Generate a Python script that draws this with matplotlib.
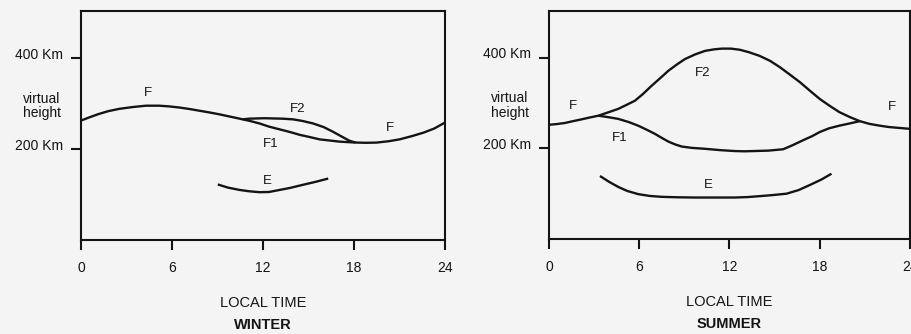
import matplotlib
matplotlib.use("Agg")
import matplotlib.pyplot as plt
from matplotlib.transforms import blended_transform_factory, ScaledTranslation

plt.rcParams['font.family'] = ['Liberation Sans', 'DejaVu Sans']

# ---------------- data (local time in hours, virtual height in km) ----------------
x_ticks = [0, 6, 12, 18, 24]
x_tick_labels = ["0", "6", "12", "18", "24"]
y_ticks = [200, 400]
y_tick_labels = ["200 Km", "400 Km"]

# Winter
winter_F_hours = [0.05, 0.6, 1.19, 1.8, 2.51, 3.4, 4.28, 5.16, 5.8, 6.48, 7.1, 7.8, 8.5,
                  9.13, 9.9, 10.67, 11.2, 11.77, 12.4, 13.1, 13.8, 14.42, 15.1, 15.74,
                  16.4, 17.06, 17.6, 18.17, 18.8, 19.5, 20.3, 21.0, 21.8, 22.6, 23.3, 24.0]
winter_F_km = [263, 270, 277, 283, 288, 292, 295, 295, 293.5, 291, 288, 284, 280,
               276, 270.5, 265, 261, 256, 249, 243, 237, 231, 226, 221,
               218.5, 216, 215, 214, 213.5, 214, 217, 221, 228, 236, 245, 258]
winter_F2_hours = [10.67, 11.1, 11.6, 12.1, 12.65, 13.3, 13.98, 14.6, 15.3, 16.0, 16.6,
                   17.2, 17.7, 18.1]
winter_F2_km = [265, 266.5, 267, 267.5, 267, 266.5, 265, 261.5, 256, 248, 238,
                227, 218, 214]
winter_E_hours = [9.02, 9.7, 10.45, 11.1, 11.77, 12.4, 13.1, 13.8, 14.6, 15.5, 16.3]
winter_E_km = [122, 115, 110, 107, 105, 105.5, 110, 114.5, 121, 128, 135]

# Summer
summer_F_hours = [0.0, 0.5, 1.06, 1.6, 2.17, 2.7, 3.28, 3.9, 4.6, 5.1, 5.71, 6.25, 6.82,
                  7.4, 7.93, 8.5, 9.04, 9.7, 10.37, 11.0, 11.5, 12.1, 12.69, 13.3, 14.0,
                  14.7, 15.35, 16.0, 16.68, 17.35, 18.0, 18.65, 19.3, 20.0, 20.66, 21.3,
                  21.99, 22.6, 23.3, 24.0]
summer_F_km = [252, 253.5, 256, 260, 264, 268, 272, 279, 287, 295, 305, 320, 338,
               355, 371, 385, 397, 407, 415, 418.5, 420, 420, 417.5, 412, 404,
               393, 379, 363, 346, 327, 309, 294, 280, 269, 260, 254,
               250, 247, 245, 243]
summer_F1_hours = [3.28, 3.9, 4.6, 5.3, 5.93, 6.5, 7.04, 7.5, 7.93, 8.4, 8.82, 9.5,
                   10.37, 11.4, 12.36, 13.0, 13.6, 14.6, 15.57, 16.2, 16.9, 17.5, 18.0,
                   18.6, 19.3, 20.0, 20.66]
summer_F1_km = [272, 269, 265, 258, 250, 241, 232, 223, 215, 208.5, 204, 201,
                199, 196, 194, 193.5, 194, 195, 198, 207, 218, 227, 236,
                244, 250, 255, 260]
summer_E_hours = [3.39, 4.0, 4.6, 5.2, 5.93, 6.7, 7.49, 8.6, 9.7, 11.0, 12.36, 13.2,
                  14.0, 14.9, 15.8, 16.6, 17.3, 18.1, 18.78]
summer_E_km = [139, 126, 115, 106, 99, 95, 93, 92, 91.5, 91.5, 91.5, 92.5,
               94.5, 97, 100, 108, 118.5, 131, 144]

# layer labels: (text, hour, km)
winter_labels = [("F", 4.4, 323), ("F2", 14.3, 288), ("F1", 12.5, 211),
                 ("F", 20.4, 246), ("E", 12.3, 130)]
summer_labels = [("F", 1.6, 294), ("F2", 10.2, 366), ("F1", 4.7, 223),
                 ("F", 22.8, 291), ("E", 10.6, 120)]
season_titles = ["WINTER", "SUMMER"]

# ---------------- figure ----------------
bg = "#f4f4f4"
ink = "#141414"
fig = plt.figure(figsize=(9.12, 3.34), dpi=100, facecolor=bg)

W, H = 912, 334
def axes_rect(x0, x1, ytop, ybot):
    return [x0 / W, (H - ybot) / H, (x1 - x0) / W, (ybot - ytop) / H]

ax_w = fig.add_axes(axes_rect(81, 445, 11, 240))
ax_s = fig.add_axes(axes_rect(549, 910, 11, 239))

panels = [
    (ax_w, [(winter_F_hours, winter_F_km), (winter_F2_hours, winter_F2_km),
            (winter_E_hours, winter_E_km)], winter_labels, season_titles[0]),
    (ax_s, [(summer_F_hours, summer_F_km), (summer_F1_hours, summer_F1_km),
            (summer_E_hours, summer_E_km)], summer_labels, season_titles[1]),
]

for ax, curves, labels, title in panels:
    ax.set_facecolor(bg)
    for hx, ky in curves:
        ax.plot(hx, ky, color=ink, lw=1.7, solid_capstyle='butt',
                solid_joinstyle='round')
    for txt, hx, ky in labels:
        ax.text(hx, ky, txt, ha='center', va='center', fontsize=9.5, color=ink)
    ax.set_xlim(0, 24)
    ax.set_ylim(0, 503)
    for sp in ax.spines.values():
        sp.set_color(ink)
        sp.set_linewidth(1.5)
    ax.set_xticks(x_ticks)
    ax.set_xticklabels(x_tick_labels)
    ax.set_yticks(y_ticks)
    ax.set_yticklabels(y_tick_labels)
    ax.tick_params(axis='x', direction='out', length=7, width=1.5, pad=8,
                   labelsize=10, colors=ink)
    ax.tick_params(axis='y', direction='out', length=7, width=1.5, pad=6,
                   labelsize=10, colors=ink)
    for lab in ax.get_yticklabels():
        lab.set_transform(lab.get_transform() +
                          ScaledTranslation(0, 3.5 / 72, fig.dpi_scale_trans))
    tr = blended_transform_factory(ax.transAxes, ax.transData)
    ax.text(-0.108, 294, "virtual\nheight", transform=tr, ha='center', va='center',
            fontsize=10, color=ink, linespacing=1.05)
    trx = blended_transform_factory(ax.transData, ax.transAxes)
    ax.text(12, -0.275, "LOCAL TIME", transform=trx, ha='center', va='center',
            fontsize=10.5, color=ink)
    ax.text(12, -0.372, title, transform=trx, ha='center', va='center',
            fontsize=10.5, color=ink, fontweight='bold')

fig.savefig("out.png", dpi=100, facecolor=bg)
